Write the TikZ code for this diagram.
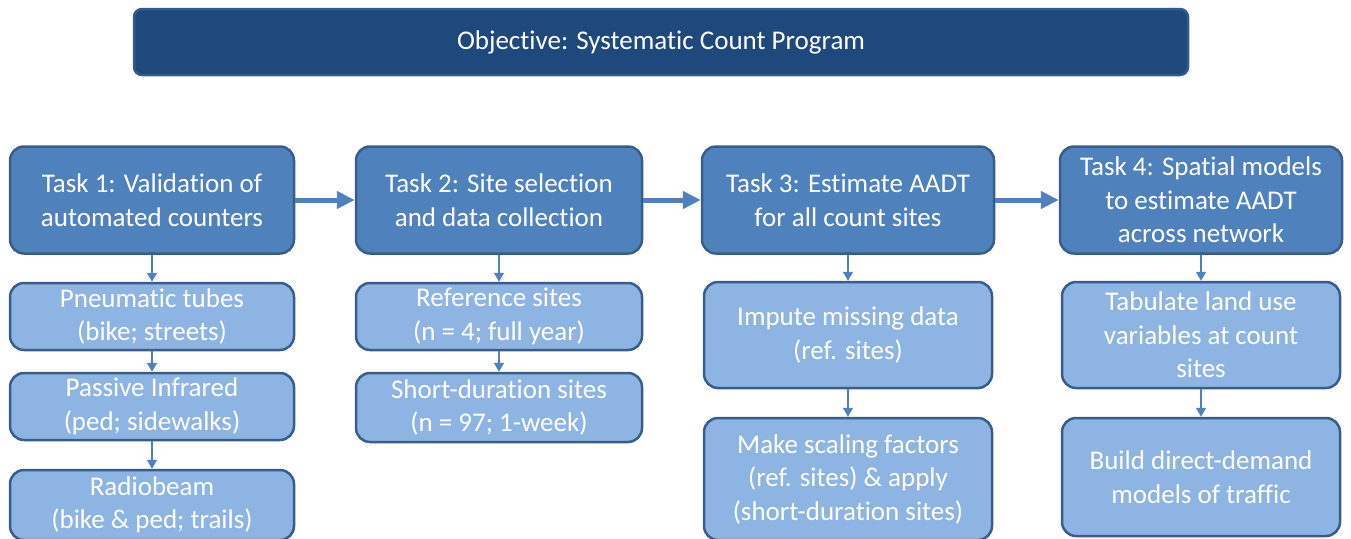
\documentclass[tikz,border=0pt]{standalone}
\usepackage{fontspec}
\setmainfont{Carlito}[Ligatures=NoCommon]
\usetikzlibrary{arrows.meta,positioning}
\definecolor{goalblue}{RGB}{31,73,125}
\definecolor{goaledge}{RGB}{52,90,140}
\definecolor{taskblue}{RGB}{79,129,189}
\definecolor{subblue}{RGB}{142,180,227}
\definecolor{edgeblue}{RGB}{56,93,138}

\begin{document}
\begin{tikzpicture}[x=1pt,y=-1pt,>=Latex,
box/.style={draw=edgeblue,line width=2.5pt,rounded corners=14pt,align=center,text=white,font=\fontsize{27}{33.5}\selectfont,inner sep=0pt,minimum width=284pt},
task/.style={box,fill=taskblue,minimum height=107pt},
sub/.style={box,fill=subblue},
flow/.style={-{Triangle[length=18pt,width=17pt]},line width=5pt,draw=taskblue},
link/.style={-{Triangle[length=9pt,width=10pt]},line width=1.5pt,draw=taskblue}]
\useasboundingbox (0,0) rectangle (1351,538);
\node[box,fill=goalblue,draw=goaledge,rounded corners=8pt,minimum width=1054pt,minimum height=66pt] (goal) at (661,42)
{Objective: Systematic Count Program};
% tasks
\node[task] (task1) at (152,200) {Task 1: Validation of\\automated counters};
\node[task,minimum width=286pt] (task2) at (499,200) {Task 2: Site selection\\and data collection};
\node[task,minimum width=292pt] (task3) at (848,200) {Task 3: Estimate AADT\\for all count sites};
\node[task,minimum width=282pt] (task4) at (1201,200) {Task 4: Spatial models\\to estimate AADT\\across network};
% sub-steps
\node[sub,minimum height=67pt] (tubes) at (152,316.5) {Pneumatic tubes\\(bike; streets)};
\node[sub,minimum height=67pt] (infrared) at (152,406.5) {Passive Infrared\\(ped; sidewalks)};
\node[sub,minimum height=70pt] (radio) at (152,505) {Radiobeam\\(bike \& ped; trails)};
\node[sub,minimum width=286pt,minimum height=67pt] (refsites) at (499,316.5) {Reference sites\\(n = 4; full year)};
\node[sub,minimum width=286pt,minimum height=69pt] (shortsites) at (499,407.5) {Short-duration sites\\(n = 97; 1-week)};
\node[sub,minimum width=288pt,minimum height=106pt] (impute) at (848,335) {Impute missing data\\(ref. sites)};
\node[sub,minimum width=288pt,minimum height=122pt] (scaling) at (848,479) {Make scaling factors\\(ref. sites) \& apply\\(short-duration sites)};
\node[sub,minimum width=278pt,minimum height=106pt] (landuse) at (1201,335) {Tabulate land use\\variables at count\\sites};
\node[sub,minimum width=278pt,minimum height=118pt] (ddmodel) at (1201,477) {Build direct-demand\\models of traffic};
\draw[flow] (task1)--(task2);
\draw[flow] (task2)--(task3);
\draw[flow] (task3)--(task4);
\draw[link] (task1)--(tubes);
\draw[link] (tubes)--(infrared);
\draw[link] (infrared)--(radio);
\draw[link] (task2)--(refsites);
\draw[link] (refsites)--(shortsites);
\draw[link] (task3)--(impute);
\draw[link] (impute)--(scaling);
\draw[link] (task4)--(landuse);
\draw[link] (landuse)--(ddmodel);
\end{tikzpicture}
\end{document}
